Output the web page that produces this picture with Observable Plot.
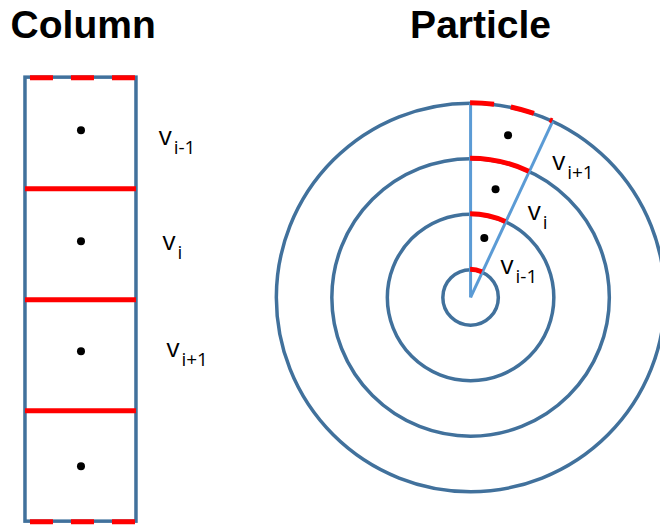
<!DOCTYPE html>
<html><head><meta charset="utf-8">
<script src="https://cdn.jsdelivr.net/npm/d3@7"></script>
<script src="https://cdn.jsdelivr.net/npm/@observablehq/plot@0.6"></script>
<style>body{margin:0;background:#fff} #chart{width:660px;height:528px;overflow:hidden}</style>
</head><body><div id="chart"></div>
<script>
// ---------- data ----------
const panelTitles = ["Column", "Particle"];
const cellSubscripts = ["i-1", "i", "i+1", null];     // control volumes, top to bottom
const cellDotShift = [-0.05, -0.05, -0.07, 0.0];       // dot offset from cell centre
const ringRadii = [0.5, 1.5, 2.5, 3.5];                // shell boundaries
const shellSubscripts = ["i-1", "i", "i+1"];           // inner to outer shell
const shellDotRadii = [1.1, 2.0, 3.0];
const shellDotAngle = 13;                              // degrees from vertical
const wedgeAngle = 25;                                 // degrees from vertical

// ---------- layout / style ----------
const W = 660, H = 528, U = 55.5;
const xDomain = [-0.45, -0.45 + W / U];
const yDomain = [-1.39, -1.39 + H / U];
const cellSize = 2, columnWidth = 2;
const centre = {x: 8.02, y: 3.96};
const titlePos = [[1.04, -0.72], [8.2, -0.72]];
const columnLabelPos = [[2.40, 1.22], [2.47, 3.10], [2.54, 5.04]];
const shellLabelPos = [[8.56, 3.53], [9.05, 2.57], [9.49, 1.66]];
const BLUE = "#41719C", LIGHT = "#5B9BD5", RED = "#FF0000";
const FONT = "Open Sans";
const TITLE_FONT = "Liberation Sans";

const nCells = cellSubscripts.length;
const boundaries = d3.range(nCells + 1).map(i => ({y: i * cellSize, x1: 0, x2: columnWidth, outer: i === 0 || i === nCells}));
const cells = cellSubscripts.map((s, i) => ({s, y: (i + 0.5) * cellSize + cellDotShift[i]}));
const colLabels = cellSubscripts.filter(s => s).map((s, i) => ({s, x: columnLabelPos[i][0], y: columnLabelPos[i][1]}));
const shLabels = shellSubscripts.map((s, i) => ({s, x: shellLabelPos[i][0], y: shellLabelPos[i][1]}));
const rad = a => a * Math.PI / 180;
const Rout = ringRadii[ringRadii.length - 1];

function arcMark(radii, {stroke, strokeWidth, dash}) {
  return (index, scales) => {
    const x = scales.x, y = scales.y;
    const cx = x(centre.x), cy = y(centre.y);
    const g = d3.create("svg:g").attr("fill", "none").attr("stroke", stroke).attr("stroke-width", strokeWidth);
    if (dash) g.attr("stroke-dasharray", dash);
    const a = rad(wedgeAngle);
    for (const r of radii) {
      const rp = x(centre.x + r) - cx;
      g.append("path").attr("d", `M${cx},${cy - rp}A${rp},${rp} 0 0 1 ${cx + rp * Math.sin(a)},${cy - rp * Math.cos(a)}`);
    }
    return g.node();
  };
}

const labelMarks = (data) => [
  Plot.text(data, {x: "x", y: "y", text: () => "v", fontFamily: FONT, fontSize: 26, textAnchor: "start", lineAnchor: "bottom", fill: "black"}),
  Plot.text(data, {x: "x", y: "y", text: "s", dx: 15, dy: 9, fontFamily: FONT, fontSize: 19, textAnchor: "start", lineAnchor: "bottom", fill: "black"})
];

const chart = Plot.plot({
  width: W, height: H, margin: 0,
  x: {domain: xDomain, axis: null},
  y: {domain: yDomain, reverse: true, axis: null},
  r: {type: "linear", domain: [0, 1], range: [0, U]},
  style: {background: "white"},
  marks: [
    // titles
    Plot.text(panelTitles, {x: (d, i) => titlePos[i][0], y: (d, i) => titlePos[i][1], text: d => d,
      fontFamily: TITLE_FONT, fontWeight: "bold", fontSize: 39, textAnchor: "middle", lineAnchor: "bottom", fill: "black"}),
    // column
    Plot.rect([{x1: 0, x2: columnWidth, y1: 0, y2: nCells * cellSize}], {x1: "x1", x2: "x2", y1: "y1", y2: "y2", fill: "none", stroke: BLUE, strokeWidth: 3.5}),
    Plot.ruleY(boundaries.filter(d => !d.outer), {y: "y", x1: "x1", x2: "x2", stroke: RED, strokeWidth: 5}),
    Plot.ruleY(boundaries.filter(d => d.outer), {y: "y", x1: "x1", x2: "x2", stroke: RED, strokeWidth: 5, strokeDasharray: "23,18", strokeDashoffset: 36}),
    Plot.dot(cells, {x: () => columnWidth / 2, y: "y", r: 4, fill: "black"}),
    ...labelMarks(colLabels),
    // particle
    Plot.dot(ringRadii, {x: () => centre.x, y: () => centre.y, r: d => d, fill: "none", stroke: BLUE, strokeWidth: 3.5}),
    Plot.link([0, wedgeAngle], {x1: () => centre.x, y1: () => centre.y,
      x2: a => centre.x + Rout * Math.sin(rad(a)), y2: a => centre.y - Rout * Math.cos(rad(a)), stroke: LIGHT, strokeWidth: 3}),
    arcMark(ringRadii.slice(0, -1), {stroke: RED, strokeWidth: 5}),
    arcMark(ringRadii.slice(-1), {stroke: RED, strokeWidth: 5, dash: "24,17"}),
    Plot.dot(shellDotRadii, {x: r => centre.x + r * Math.sin(rad(shellDotAngle)), y: r => centre.y - r * Math.cos(rad(shellDotAngle)), r: 4, fill: "black"}),
    ...labelMarks(shLabels)
  ]
});
document.getElementById("chart").append(chart);
</script>
</body></html>
